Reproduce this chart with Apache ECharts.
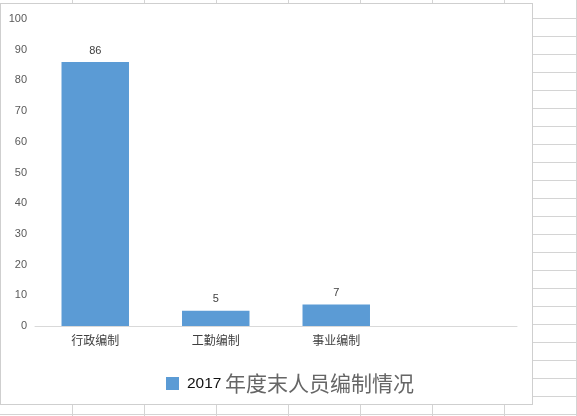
<!DOCTYPE html>
<html>
<head>
<meta charset="utf-8">
<script src="https://cdn.jsdelivr.net/npm/echarts@6/dist/echarts.min.js"></script>
<style>
html,body{margin:0;padding:0;width:577px;height:416px;overflow:hidden;}
body{
  background-color:#fff;
  background-image:
    repeating-linear-gradient(to right, transparent 0, transparent 71px, #d4d4d4 71px, #d4d4d4 72px),
    repeating-linear-gradient(to bottom, transparent 0, transparent 17px, #d4d4d4 17px, #d4d4d4 18px);
  background-position:1px 1px;
}
#box{position:absolute;left:0;top:3px;width:531px;height:400px;background:#fff;border:1px solid #cfcfcf;}
#chart{width:531px;height:400px;}
</style>
</head>
<body>
<div id="box"><div id="chart"></div></div>
<script>
var categories = ['行政编制', '工勤编制', '事业编制', ''];
var values = [86, 5, 7, null];
var seriesName = '2017 年度末人员编制情况';
var yTicks = [0, 10, 20, 30, 40, 50, 60, 70, 80, 90, 100];

var chart = echarts.init(document.getElementById('chart'));
chart.setOption({
  animation: false,
  textStyle: {fontFamily: '"Noto Sans CJK SC", "Noto Sans", sans-serif'},
  grid: {left: 34, right: 15, top: 15, bottom: 78},
  legend: {
    data: [seriesName],
    left: 160, top: 364,
    itemWidth: 13, itemHeight: 13, itemGap: 10,
    icon: 'rect',
    formatter: function (n) {
      var i = n.indexOf(' ');
      return '{a|' + n.slice(0, i) + '} {b|' + n.slice(i + 1) + '}';
    },
    textStyle: {
      fontSize: 16,
      padding: [0, 0, 0, 3],
      rich: {
        a: {fontSize: 15.5, color: '#111', fontFamily: 'Liberation Sans, Arial, sans-serif'},
        b: {fontSize: 21, color: '#666', fontFamily: '"Noto Sans CJK SC", sans-serif'}
      }
    }
  },
  xAxis: {
    type: 'category',
    data: categories,
    axisLine: {lineStyle: {color: '#d9d9d9', width: 1}},
    axisTick: {show: false},
    axisLabel: {color: '#404040', fontSize: 12, margin: 8}
  },
  yAxis: {
    type: 'value',
    min: yTicks[0], max: yTicks[yTicks.length - 1], interval: 10,
    axisLine: {show: false},
    axisTick: {show: false},
    splitLine: {show: false},
    axisLabel: {color: '#595959', fontSize: 11, margin: 8, fontFamily: 'Liberation Sans, Arial, sans-serif'}
  },
  series: [{
    name: seriesName,
    type: 'bar',
    data: values,
    barWidth: '56%',
    itemStyle: {color: '#5b9bd5'},
    label: {show: true, position: 'top', distance: 6, color: '#404040', fontSize: 11, fontFamily: 'Liberation Sans, Arial, sans-serif'}
  }]
});
</script>
</body>
</html>
